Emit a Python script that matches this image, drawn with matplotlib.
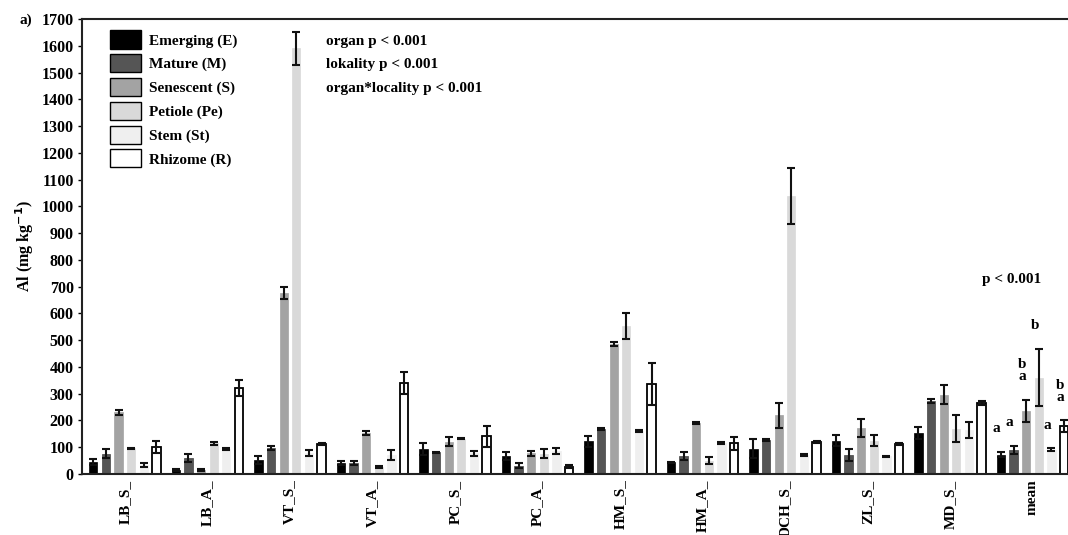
import matplotlib
matplotlib.use("Agg")
import matplotlib.pyplot as plt
from matplotlib.patches import Patch
import numpy as np

groups = ["LB_S_", "LB_A_", "VT_S_", "VT_A_", "PC_S_", "PC_A_",
          "HM_S_", "HM_A_", "DCH_S_", "ZL_S_", "MD_S_", "mean"]

organs = ["Emerging (E)", "Mature (M)", "Senescent (S)",
          "Petiole (Pe)", "Stem (St)", "Rhizome (R)"]

emerging = [44, 14, 52, 40, 94, 69, 122, 44, 95, 125, 154, 72]
emerging_err = [12, 3, 15, 8, 22, 15, 20, 2, 37, 20, 22, 10]
mature = [75, 59, 97, 40, 81, 31, 169, 66, 126, 70, 272, 91]
mature_err = [17, 14, 6, 7, 3, 10, 3, 15, 4, 22, 8, 15]
senescent = [231, 14, 675, 152, 121, 77, 487, 190, 219, 172, 297, 237]
senescent_err = [10, 3, 22, 7, 16, 10, 8, 4, 47, 33, 37, 41]
petiole = [96, 115, 1590, 27, 131, 75, 553, 50, 1040, 125, 169, 360]
petiole_err = [3, 5, 62, 4, 2, 17, 47, 12, 105, 20, 50, 107]
stem = [34, 94, 77, 71, 77, 87, 160, 115, 70, 66, 166, 91]
stem_err = [7, 3, 11, 17, 8, 12, 3, 3, 3, 3, 30, 5]
rhizome = [102, 322, 112, 340, 141, 27, 337, 115, 119, 112, 264, 179]
rhizome_err = [22, 29, 2, 40, 40, 5, 78, 25, 3, 3, 8, 22]

mean_letters = ["a", "a", "b\na", "b", "a", "b\na"]

stats_lines = ["organ p < 0.001", "lokality p < 0.001", "organ*locality p < 0.001"]
mean_p = "p < 0.001"

values = [emerging, mature, senescent, petiole, stem, rhizome]
errors = [emerging_err, mature_err, senescent_err, petiole_err, stem_err, rhizome_err]
colors = ["#000000", "#555555", "#a3a3a3", "#d9d9d9", "#efefef", "#ffffff"]
edges = ["#000000", "#444444", "#a3a3a3", "#d9d9d9", "#efefef", "#000000"]

plt.rcParams['font.family'] = ['Liberation Serif', 'DejaVu Serif']
plt.rcParams['font.weight'] = 'bold'

fig = plt.figure(figsize=(10.68, 5.35), dpi=100)
ax = fig.add_axes([0.0768, 0.114, 0.9232, 0.8505])

x = np.arange(len(groups))
step = 0.153
width = 0.10
for i, (v, e) in enumerate(zip(values, errors)):
    pos = x + (i - 2.5) * step
    ax.bar(pos, v, width=width, color=colors[i], edgecolor=edges[i],
           linewidth=1.3 if i == 5 else 0.5, zorder=2)
    ax.errorbar(pos, v, yerr=e, fmt='none', ecolor='#111111',
                elinewidth=1.5, capsize=3.2, capthick=1.5, zorder=3)

# letters over mean group
gi = len(groups) - 1
for i, lab in enumerate(mean_letters):
    px = gi + (i - 2.5) * step
    top = values[i][gi] + errors[i][gi]
    ax.annotate(lab, xy=(px, top), xytext=(-3, 12), textcoords='offset points',
                ha='center', va='bottom', fontsize=11, fontweight='bold',
                linespacing=0.85)

ax.set_xlim(-0.52, 11.43)
ax.set_ylim(0, 1700)
ax.set_yticks(np.arange(0, 1701, 100))
ax.tick_params(axis='y', labelsize=11.5, length=3, width=1, direction='out', pad=3)
ax.set_xticks(x)
ax.set_xticklabels(groups, rotation=90, fontsize=11, fontweight='bold')
ax.tick_params(axis='x', length=0, pad=4)
for lab in ax.get_yticklabels():
    lab.set_fontweight('bold')

for s in ['left', 'bottom', 'top']:
    ax.spines[s].set_linewidth(1.5)
    ax.spines[s].set_color('#222222')
ax.spines['right'].set_visible(False)

ax.set_ylabel("Al (mg kg$^{\\mathbf{-1}}$)", fontsize=11.5, fontweight='bold', labelpad=4)

handles = [Patch(facecolor=c, edgecolor='#000000', linewidth=1.0) for c in colors]
leg = ax.legend(handles, organs, loc='upper left', bbox_to_anchor=(0.028, 0.975),
                frameon=False, handlelength=2.05, handleheight=1.45,
                labelspacing=0.37, handletextpad=0.5, borderaxespad=0.0,
                borderpad=0.0, prop={'weight': 'bold', 'size': 11})

for k, line in enumerate(stats_lines):
    ax.text(0.247, 0.951 - k * 0.0515, line, transform=ax.transAxes,
            fontsize=11, fontweight='bold', va='center', ha='left')

ax.text(0.913, 0.428, mean_p, transform=ax.transAxes, fontsize=11,
        fontweight='bold', va='center', ha='left')

fig.text(0.018, 0.963, "a)", fontsize=11, fontweight='bold', va='center', ha='left')

fig.savefig("out.png", dpi=100)
